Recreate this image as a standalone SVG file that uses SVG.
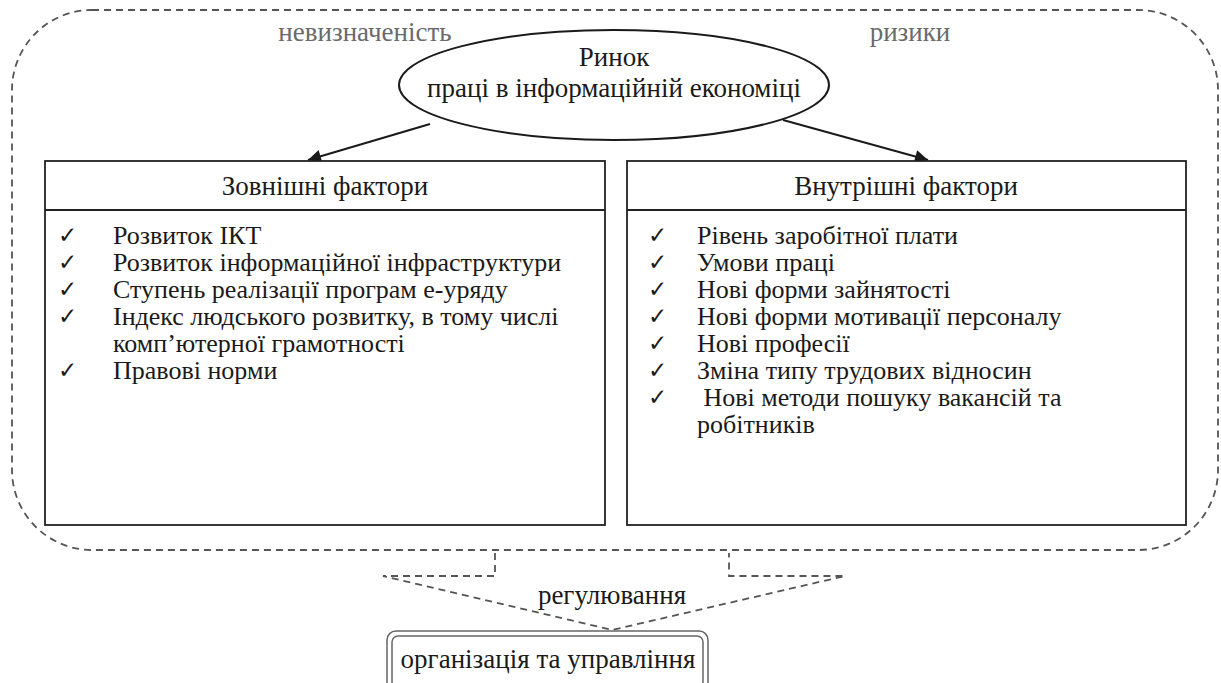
<svg xmlns="http://www.w3.org/2000/svg" width="1221" height="683" viewBox="0 0 1221 683" font-family="'Liberation Serif', serif">
<defs>
<style>
text{font-family:"Liberation Serif",serif;font-size:27px;fill:#1a1a1a}
.li text{font-size:26px}
.gray{fill:#6a6a6a}
.dash{fill:none;stroke:#555;stroke-width:1.8;stroke-dasharray:7,5}
.box{fill:#fff;stroke:#222;stroke-width:1.8}
.conn{stroke:#1a1a1a;stroke-width:2;fill:none}
.ck text{font-size:23px}
</style>
<marker id="ah" viewBox="0 0 10 10" refX="10" refY="5" markerWidth="18" markerHeight="13" markerUnits="userSpaceOnUse" orient="auto">
<path d="M0,0 L10,5 L0,10 z" fill="#1a1a1a"/>
</marker>
</defs>
<rect width="1221" height="683" fill="#fff"/>
<g id="context">
<rect x="12" y="10" width="1206" height="540" rx="80" ry="80" fill="#f2f2f2" class="dash"/>
<text x="365" y="41" text-anchor="middle" class="gray">невизначеність</text>
<text x="910" y="41" text-anchor="middle" class="gray">ризики</text>
</g>
<g id="connectors">
<line x1="430" y1="124" x2="308" y2="160" class="conn" marker-end="url(#ah)"/>
<line x1="783" y1="120" x2="928" y2="160" class="conn" marker-end="url(#ah)"/>
<polyline points="495,553 495,576 383,576 612,630 845,576 729,576 729,553" class="dash"/>
</g>
<g id="market">
<ellipse cx="614" cy="85" rx="215" ry="55" fill="#fff" stroke="#1a1a1a" stroke-width="2"/>
<text x="614" y="66" text-anchor="middle">Ринок</text>
<text x="614" y="97" text-anchor="middle">праці в інформаційній економіці</text>
</g>
<g id="external">
<rect x="45" y="161" width="560" height="364" class="box"/>
<line x1="45" y1="210" x2="605" y2="210" stroke="#222" stroke-width="1.8"/>
<text x="325" y="195" text-anchor="middle">Зовнішні фактори</text>
<g class="ck">
<text x="58" y="243">✓</text><text x="58" y="270">✓</text><text x="58" y="297">✓</text><text x="58" y="324">✓</text><text x="58" y="378">✓</text>
</g>
<g class="li">
<text x="113" y="244">Розвиток ІКТ</text>
<text x="113" y="271">Розвиток інформаційної інфраструктури</text>
<text x="113" y="298">Ступень реалізації програм е-уряду</text>
<text x="113" y="325">Індекс людського розвитку, в тому числі</text>
<text x="113" y="352">комп’ютерної грамотності</text>
<text x="113" y="379">Правові норми</text>
</g>
</g>
<g id="internal">
<rect x="627" y="161" width="559" height="364" class="box"/>
<line x1="627" y1="210" x2="1186" y2="210" stroke="#222" stroke-width="1.8"/>
<text x="906" y="195" text-anchor="middle">Внутрішні фактори</text>
<g class="ck">
<text x="648" y="243">✓</text><text x="648" y="270">✓</text><text x="648" y="297">✓</text><text x="648" y="324">✓</text><text x="648" y="351">✓</text><text x="648" y="378">✓</text><text x="648" y="405">✓</text>
</g>
<g class="li">
<text x="697" y="244">Рівень заробітної плати</text>
<text x="697" y="271">Умови праці</text>
<text x="697" y="298">Нові форми зайнятості</text>
<text x="697" y="325">Нові форми мотивації персоналу</text>
<text x="697" y="352">Нові професії</text>
<text x="697" y="379">Зміна типу трудових відносин</text>
<text x="697" y="406" xml:space="preserve"> Нові методи пошуку вакансій та</text>
<text x="697" y="433">робітників</text>
</g>
</g>
<g id="regulation">
<text x="612" y="604" text-anchor="middle">регулювання</text>
</g>
<g id="management">
<rect x="387" y="631" width="321" height="62" rx="9" fill="#fff" stroke="#666" stroke-width="1.5"/>
<rect x="392" y="636" width="311" height="52" rx="6" fill="none" stroke="#666" stroke-width="1.5"/>
<text x="548" y="668" text-anchor="middle">організація та управління</text>
</g>
</svg>
